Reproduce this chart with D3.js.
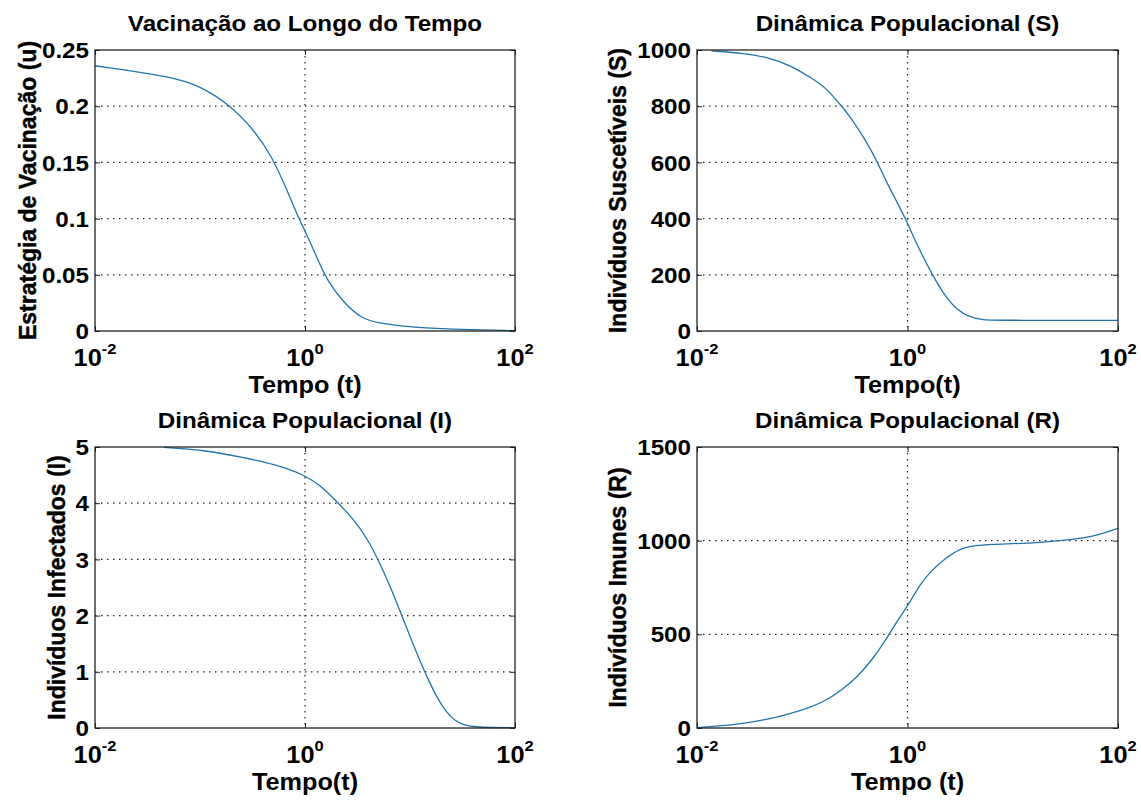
<!DOCTYPE html>
<html lang="pt">
<head>
<meta charset="UTF-8">
<title>Vacinação - Dinâmica Populacional</title>
<script src="https://d3js.org/d3.v7.min.js"></script>
<style>
  body { margin: 0; background: #fff; }
  text { font-family: "Liberation Sans", Arial, sans-serif; font-weight: bold; fill: #000; }
</style>
</head>
<body>
<div id="chart"></div>
<script>
// u(t) - estratégia de vacinação
var tU = [0.01, 0.0545, 0.1, 0.196, 0.333, 0.485, 0.656, 0.887, 1.03, 1.29, 1.62, 2.36, 3.44, 5.01, 10.7, 22.6, 100];
var vU = [0.236, 0.2263, 0.218, 0.2006, 0.178, 0.155, 0.128, 0.0985, 0.0867, 0.066, 0.045, 0.0246, 0.0112, 0.0068, 0.0033, 0.0015, 0.0003];

// S(t) - suscetíveis
var tS = [0.0137, 0.0284, 0.0465, 0.0759, 0.134, 0.171, 0.238, 0.28, 0.421, 0.516, 0.632, 0.809, 0.991, 1.216, 1.687, 2.339, 2.985, 3.819, 5.08, 8.63, 100];
var vS = [997, 988, 974, 948, 891, 862, 799, 767, 666, 601, 530, 453, 388, 311, 205, 116, 75, 51, 39, 38, 38];

// I(t) - infectados
var tI = [0.0452, 0.116, 0.246, 0.524, 0.993, 1.393, 2.032, 2.958, 4.0, 5.01, 6.31, 7.89, 9.89, 12.39, 15.49, 19.5, 24.55, 30.6, 41.4, 100];
var vI = [4.994, 4.94, 4.82, 4.69, 4.5, 4.32, 4.02, 3.7, 3.34, 2.98, 2.57, 2.12, 1.65, 1.2, 0.79, 0.43, 0.18, 0.06, 0.01, 0.005];

// R(t) - imunes
var tR = [0.01, 0.0242, 0.0428, 0.0759, 0.1236, 0.171, 0.238, 0.33, 0.457, 0.632, 0.809, 1.033, 1.318, 1.687, 2.339, 3.236, 4.487, 8.63, 17.99, 37.5, 66.5, 100];
var vR = [2, 18, 41, 75, 114, 149, 204, 270, 360, 476, 577, 662, 769, 840, 911, 961, 977, 982, 990, 1005, 1031, 1066];

var xTicks = [0.01, 1, 100];
var xTickExp = ["-2", "0", "2"];
var uTicks = [0, 0.05, 0.1, 0.15, 0.2, 0.25];
var sTicks = [0, 200, 400, 600, 800, 1000];
var iTicks = [0, 1, 2, 3, 4, 5];
var rTicks = [0, 500, 1000, 1500];

var titles = ["Vacinação ao Longo do Tempo", "Dinâmica Populacional (S)", "Dinâmica Populacional (I)", "Dinâmica Populacional (R)"];
var yLabels = ["Estratégia de Vacinação (u)", "Indivíduos Suscetíveis (S)", "Indivíduos Infectados (I)", "Indivíduos Imunes (R)"];
var xLabels = ["Tempo (t)", "Tempo(t)", "Tempo(t)", "Tempo (t)"];

var width = 1141, height = 805;
var lineColor = "#1f74ad";
var sx = 1.1; // the text in the figure is a bit wide

var svg = d3.select("#chart").append("svg")
    .attr("width", width)
    .attr("height", height);

function wideText(sel, x, y) {
    return sel.attr("transform", "translate(" + x + "," + y + ") scale(" + sx + ",1)");
}

var panels = [
    {x: 95, y: 50, w: 420, h: 281, ylab: 67, t: tU, v: vU, ticks: uTicks},
    {x: 697, y: 50, w: 421, h: 281, ylab: 79, t: tS, v: vS, ticks: sTicks},
    {x: 95, y: 447, w: 420, h: 281, ylab: 38, t: tI, v: vI, ticks: iTicks},
    {x: 697, y: 447, w: 421, h: 281, ylab: 79, t: tR, v: vR, ticks: rTicks}
];

panels.forEach(function (p, i) {
    var g = svg.append("g").attr("transform", "translate(" + p.x + "," + p.y + ")");

    var x = d3.scaleLog().domain([0.01, 100]).range([0, p.w]);
    var y = d3.scaleLinear().domain([p.ticks[0], p.ticks[p.ticks.length - 1]]).range([p.h, 0]);

    // grid (dotted) - inner ticks only
    g.selectAll(".hgrid")
        .data(p.ticks.slice(1, -1))
        .enter().append("line")
        .attr("x1", 0).attr("x2", p.w)
        .attr("y1", function (d) { return y(d); })
        .attr("y2", function (d) { return y(d); })
        .attr("stroke", "#222")
        .attr("stroke-width", 1.2)
        .attr("stroke-dasharray", "1.5,4.5");

    g.selectAll(".vgrid")
        .data(xTicks.slice(1, -1))
        .enter().append("line")
        .attr("y1", 0).attr("y2", p.h)
        .attr("x1", function (d) { return x(d); })
        .attr("x2", function (d) { return x(d); })
        .attr("stroke", "#222")
        .attr("stroke-width", 1.2)
        .attr("stroke-dasharray", "1.5,4.5");

    // curve
    var line = d3.line()
        .x(function (d) { return x(d[0]); })
        .y(function (d) { return y(d[1]); })
        .curve(d3.curveBasis);

    g.append("path")
        .datum(d3.zip(p.t, p.v))
        .attr("d", line)
        .attr("fill", "none")
        .attr("stroke", lineColor)
        .attr("stroke-width", 1.3);

    // axes with inward ticks
    var yAxis = g.append("g")
        .call(d3.axisLeft(y).tickValues(p.ticks).tickSizeInner(-5).tickSizeOuter(0).tickPadding(6)
            .tickFormat(function (d) { return String(d); }));
    yAxis.select(".domain").remove();
    yAxis.selectAll("line").attr("stroke", "#222");
    yAxis.selectAll("text").each(function (d) {
        var t = d3.select(this);
        t.attr("x", 0).attr("dy", null).attr("dominant-baseline", "central")
            .style("font-size", "22px").attr("font-family", null);
        wideText(t, -6, 0);
    });

    var yRight = g.append("g").attr("transform", "translate(" + p.w + ",0)")
        .call(d3.axisRight(y).tickValues(p.ticks).tickSizeInner(-5).tickSizeOuter(0).tickFormat(""));
    yRight.select(".domain").remove();
    yRight.selectAll("line").attr("stroke", "#222");

    var xAxis = g.append("g").attr("transform", "translate(0," + p.h + ")")
        .call(d3.axisBottom(x).tickValues(xTicks).tickSizeInner(-5).tickSizeOuter(0).tickFormat(""));
    xAxis.select(".domain").remove();
    xAxis.selectAll("line").attr("stroke", "#222");

    var xTop = g.append("g")
        .call(d3.axisTop(x).tickValues(xTicks).tickSizeInner(-5).tickSizeOuter(0).tickFormat(""));
    xTop.select(".domain").remove();
    xTop.selectAll("line").attr("stroke", "#222");

    // x tick labels: 10^n
    var xl = g.selectAll(".xtl")
        .data(xTicks)
        .enter().append("text")
        .attr("transform", function (d) {
            return "translate(" + x(d) + "," + (p.h + 35) + ") scale(" + sx + ",1)";
        })
        .attr("text-anchor", "middle")
        .style("font-size", "23px");
    xl.append("tspan").text("10");
    xl.append("tspan")
        .attr("dy", -12)
        .style("font-size", "15px")
        .text(function (d, j) { return xTickExp[j]; });

    // box
    g.append("rect")
        .attr("width", p.w).attr("height", p.h)
        .attr("fill", "none")
        .attr("stroke", "#222")
        .attr("stroke-width", 1.3);

    // title
    wideText(g.append("text"), p.w / 2, -19)
        .attr("text-anchor", "middle")
        .style("font-size", "22px")
        .text(titles[i]);

    // x label
    wideText(g.append("text"), p.w / 2, p.h + 62)
        .attr("text-anchor", "middle")
        .style("font-size", "23px")
        .text(xLabels[i]);

    // y label
    g.append("text")
        .attr("transform", "translate(" + (-p.ylab + 8) + "," + (p.h / 2) + ") rotate(-90)")
        .attr("text-anchor", "middle")
        .style("font-size", "23px")
        .style("stroke", "#000")
        .style("stroke-width", 0.4)
        .text(yLabels[i]);
});
</script>
</body>
</html>
